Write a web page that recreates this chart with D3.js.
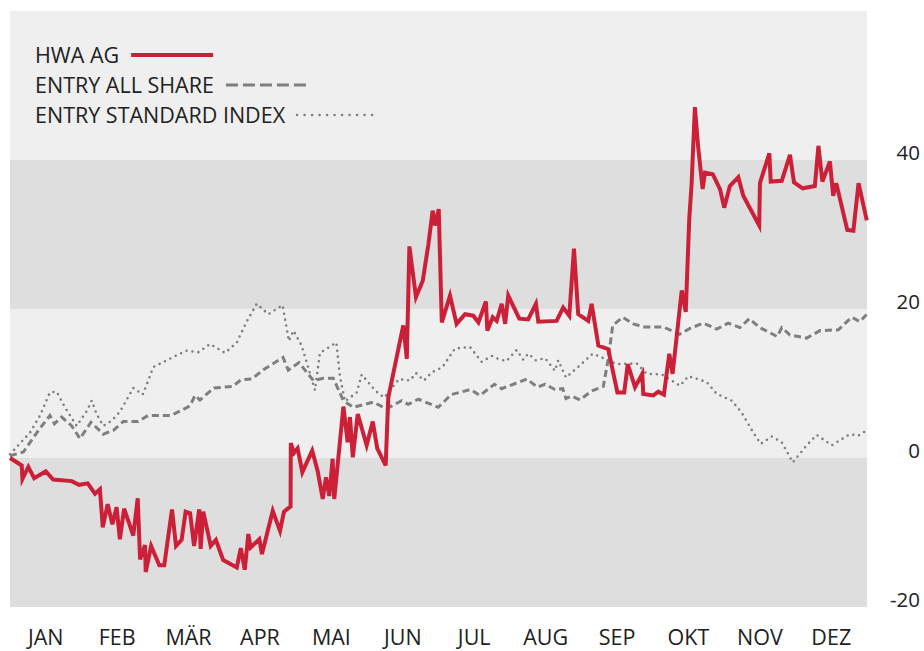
<!DOCTYPE html>
<html>
<head>
<meta charset="utf-8">
<script src="https://cdnjs.cloudflare.com/ajax/libs/d3/7.8.5/d3.min.js"></script>
<style>
  body { margin: 0; background: #fff; }
  text { font-family: "Open Sans", "Noto Sans", sans-serif; fill: #222; }
</style>
</head>
<body>
<script>
// Size of the page
var width = 924;
var height = 651;

// Months shown under the chart
var months = ["JAN", "FEB", "MÄR", "APR", "MAI", "JUN", "JUL", "AUG", "SEP", "OKT", "NOV", "DEZ"];

// Y axis tick labels
var yTicks = [-20, 0, 20, 40];

// Background bands [from, to]
var bands = [[-20, 0], [0, 20], [20, 40], [40, 60]];

// HWA AG, performance in % : [day of year, value]
var hwaData = [
  [0, 0.0], [5.0, -1.0], [5.3, -2.8], [7.8, -1.2], [10.3, -2.7], [15.2, -1.8], [18.4, -2.9],
  [26.3, -3.1], [29.4, -3.6], [33.1, -3.4], [36.2, -4.8], [38.3, -4.2], [39.5, -9.3], [41.6, -6.2],
  [43.6, -8.9], [45.4, -6.6], [46.8, -10.9], [48.6, -6.8], [52.5, -10.4], [54.4, -5.4], [55.4, -13.6],
  [57.5, -11.7], [57.8, -15.3], [60.1, -11.8], [63.6, -14.4], [65.7, -14.4], [69.0, -6.9], [70.7, -11.8],
  [73.1, -11.0], [74.8, -7.2], [76.7, -7.4], [78.4, -11.8], [80.6, -6.9], [81.2, -12.2], [82.3, -7.2],
  [85.5, -11.8], [87.7, -11.0], [90.8, -13.7], [96.6, -14.7], [98.3, -12.1], [100.0, -15.0], [101.5, -10.2],
  [102.5, -12.0], [106.2, -10.9], [107.3, -12.9], [111.9, -7.1], [115.0, -9.8], [116.7, -7.2], [119.5, -6.5],
  [119.6, 2.0], [121.0, 0.7], [122.5, 1.3], [124.5, -1.9], [128.7, 1.0], [131.0, -1.7], [133.2, -5.5],
  [134.6, -2.6], [136.0, -5.1], [137.4, -0.1], [138.1, -5.5], [142.0, 6.9], [143.8, 2.1], [144.8, 5.5],
  [146.0, 0.1], [148.1, 5.9], [151.9, 1.7], [154.5, 4.9], [156.4, 1.3], [160.0, -1.0], [161.1, 8.1],
  [167.5, 17.8], [169.0, 13.3], [170.1, 28.4], [172.9, 21.6], [175.8, 23.8], [178.2, 28.7], [180.0, 33.2],
  [181.0, 31.2], [182.6, 33.4], [183.9, 18.2], [187.4, 21.8], [190.2, 18.0], [193.8, 19.3], [197.3, 19.1],
  [199.5, 18.2], [202.7, 21.0], [203.3, 17.1], [205.6, 18.9], [207.3, 18.4], [209.4, 20.7], [210.9, 18.0],
  [212.2, 21.8], [216.9, 18.7], [220.7, 18.6], [224.0, 20.7], [225.0, 18.3], [232.8, 18.4], [235.6, 20.2],
  [238.2, 19.1], [240.2, 28.1], [242.0, 19.3], [246.3, 18.4], [247.7, 20.7], [250.6, 15.1], [254.8, 14.6],
  [258.7, 8.8], [261.6, 8.8], [263.1, 12.6], [266.2, 9.5], [269.3, 11.3], [269.7, 8.6], [274.0, 8.4],
  [276.1, 8.9], [278.5, 8.5], [280.8, 14.0], [282.2, 11.3], [286.1, 22.5], [287.8, 19.6], [289.3, 32.1],
  [290.3, 36.8], [291.7, 47.1], [293.1, 41.7], [295.0, 36.1], [296.0, 38.3], [299.3, 38.1], [302.4, 36.1],
  [304.2, 33.6], [306.6, 36.5], [310.2, 37.7], [312.3, 35.2], [319.1, 31.2], [319.4, 36.9], [323.4, 40.9],
  [324.0, 37.1], [328.7, 37.2], [332.2, 40.7], [333.9, 37.0], [337.6, 36.2], [342.8, 36.5], [344.3, 41.9],
  [346.0, 37.1], [349.2, 39.8], [350.6, 35.2], [351.9, 36.9], [356.6, 30.6], [359.2, 30.5], [361.4, 36.9],
  [364.9, 31.9]
];

// Entry All Share
var allShareData = [
  [0, 0.3], [5.7, 0.8], [12.1, 3.7], [17.0, 5.7], [18.9, 4.6], [22.0, 5.5], [26.3, 4.3], [29.8, 2.6],
  [34.5, 4.8], [39.7, 3.2], [44.0, 3.7], [48.3, 4.9], [54.6, 4.9], [58.8, 5.7], [68.6, 5.7], [76.7, 7.0],
  [78.8, 8.4], [80.9, 7.8], [86.9, 9.4], [94.8, 9.6], [98.4, 10.5], [102.9, 10.6], [108.2, 11.9],
  [116.3, 13.5], [118.5, 11.8], [123.1, 12.8], [129.2, 10.4], [133.4, 10.7], [137.7, 10.7], [142.0, 7.7],
  [146.2, 6.8], [154.7, 7.5], [160.4, 6.6], [166.8, 7.7], [169.6, 7.2], [173.9, 7.9], [182.4, 6.8],
  [187.8, 8.5], [196.2, 9.2], [200.2, 8.4], [206.3, 9.9], [209.4, 9.3], [220.1, 10.6], [224.7, 9.5],
  [227.9, 9.9], [232.1, 9.2], [235.4, 9.3], [236.8, 8.0], [239.2, 8.3], [242.8, 7.8], [247.7, 9.0],
  [252.7, 9.6], [254.8, 13.3], [256.7, 17.8], [261.0, 18.9], [265.5, 18.0], [269.7, 17.6], [278.2, 17.6],
  [285.1, 16.6], [289.6, 17.4], [295.3, 18.1], [301.0, 17.3], [305.9, 18.1], [310.9, 17.5], [314.9, 18.7],
  [319.4, 17.5], [326.8, 16.3], [328.7, 17.5], [332.2, 16.5], [339.3, 16.1], [345.0, 17.1], [352.8, 17.2],
  [358.5, 18.9], [362.0, 18.3], [364.9, 19.3]
];

// Entry Standard Index
var standardData = [
  [0, 0.5], [3.5, 1.7], [8.5, 3.4], [12.8, 5.7], [17.0, 8.8], [19.9, 8.9], [23.4, 6.8], [28.4, 4.3],
  [32.7, 6.3], [34.8, 7.7], [36.9, 5.9], [39.7, 4.3], [43.3, 5.0], [46.8, 6.2], [51.1, 8.6], [52.5, 9.4],
  [56.5, 8.5], [58.9, 10.4], [61.0, 12.2], [67.3, 13.2], [75.0, 14.4], [80.2, 14.2], [85.2, 15.3],
  [91.6, 14.1], [96.6, 15.5], [100.8, 18.3], [105.1, 20.7], [110.0, 19.3], [116.1, 20.5], [118.8, 15.7],
  [120.7, 17.1], [124.2, 15.1], [129.9, 9.1], [132.0, 14.1], [139.0, 15.5], [140.5, 11.0], [142.7, 7.6],
  [147.7, 8.8], [149.8, 11.2], [155.7, 9.0], [159.4, 8.1], [165.7, 10.6], [170.4, 10.4], [172.9, 11.4],
  [176.3, 10.4], [179.7, 11.5], [184.2, 12.2], [189.5, 14.7], [195.9, 14.9], [200.9, 12.9], [205.2, 13.7],
  [208.0, 13.3], [211.4, 13.0], [215.8, 14.5], [218.6, 13.2], [220.7, 14.0], [224.0, 13.1], [227.9, 13.4],
  [232.1, 11.7], [233.5, 13.1], [236.8, 10.8], [241.9, 12.2], [248.2, 14.0], [253.4, 13.3], [258.4, 12.6],
  [266.9, 12.7], [271.2, 11.3], [277.6, 11.2], [285.4, 9.7], [288.9, 11.0], [296.7, 10.2], [301.0, 8.6],
  [307.4, 7.7], [311.6, 6.1], [316.6, 3.4], [319.8, 1.9], [324.4, 2.9], [328.7, 2.1], [333.4, -0.6],
  [339.3, 1.7], [343.6, 3.1], [350.0, 1.7], [357.7, 3.2], [361.3, 3.0], [364.9, 3.7]
];

var legendNames = ["HWA AG", "ENTRY ALL SHARE", "ENTRY STANDARD INDEX"];

// Plot area
var plotLeft = 10, plotRight = 867, plotTop = 11, plotBottom = 607;

var x = d3.scaleLinear().domain([0, 365]).range([plotLeft, plotRight]);
var y = d3.scaleLinear().domain([-20, 60]).range([plotBottom, plotTop]);
var monthScale = d3.scaleBand().domain(months).range([plotLeft, plotRight]);

var svg = d3.select("body").append("svg")
  .attr("width", width)
  .attr("height", height);

// alternating background bands
svg.append("g").selectAll("rect")
  .data(bands)
  .enter().append("rect")
  .attr("x", plotLeft)
  .attr("width", plotRight - plotLeft)
  .attr("y", function (d) { return y(d[1]); })
  .attr("height", function (d) { return y(d[0]) - y(d[1]); })
  .attr("fill", function (d, i) { return i % 2 === 0 ? "#dedede" : "#efefef"; });

// y labels on the right, sitting on the band lines
svg.append("g").selectAll("text")
  .data(yTicks)
  .enter().append("text")
  .attr("x", 920)
  .attr("y", function (d) { return y(d); })
  .attr("text-anchor", "end")
  .style("font-size", "20.5px")
  .text(function (d) { return d; });

// month labels
svg.append("g").selectAll("text")
  .data(months)
  .enter().append("text")
  .attr("x", function (d) { return monthScale(d) + monthScale.bandwidth() / 2; })
  .attr("y", 645)
  .attr("text-anchor", "middle")
  .style("font-size", "21.5px")
  .text(function (d) { return d; });

var line = d3.line()
  .x(function (d) { return x(d[0]); })
  .y(function (d) { return y(d[1]); });

// index lines first, then the share on top
svg.append("path")
  .datum(standardData)
  .attr("d", line)
  .attr("fill", "none")
  .attr("stroke", "#7f7f7f")
  .attr("stroke-width", 2.6)
  .attr("stroke-linecap", "round")
  .attr("stroke-dasharray", "0,6");

svg.append("path")
  .datum(allShareData)
  .attr("d", line)
  .attr("fill", "none")
  .attr("stroke", "#7f7f7f")
  .attr("stroke-width", 3)
  .attr("stroke-dasharray", "7,4");

svg.append("path")
  .datum(hwaData)
  .attr("d", line)
  .attr("fill", "none")
  .attr("stroke", "#cc2038")
  .attr("stroke-width", 4)
  .attr("stroke-linejoin", "miter");

// legend
var legend = svg.append("g");
var legendStyles = [
  {color: "#cc2038", w: 4, dash: null, cap: "butt"},
  {color: "#7f7f7f", w: 3.2, dash: "12,5", cap: "butt"},
  {color: "#7f7f7f", w: 2.6, dash: "0,7.5", cap: "round"}
];
legendNames.forEach(function (name, i) {
  var ty = 63 + i * 30;
  var t = legend.append("text")
    .attr("x", 35)
    .attr("y", ty)
    .style("font-size", "21.5px")
    .text(name);
  var tw = t.node().getComputedTextLength();
  var s = legendStyles[i];
  legend.append("line")
    .attr("x1", 35 + tw + 12)
    .attr("x2", 35 + tw + 12 + 82)
    .attr("y1", ty - 8)
    .attr("y2", ty - 8)
    .attr("stroke", s.color)
    .attr("stroke-width", s.w)
    .attr("stroke-linecap", s.cap)
    .attr("stroke-dasharray", s.dash);
});
</script>
</body>
</html>
